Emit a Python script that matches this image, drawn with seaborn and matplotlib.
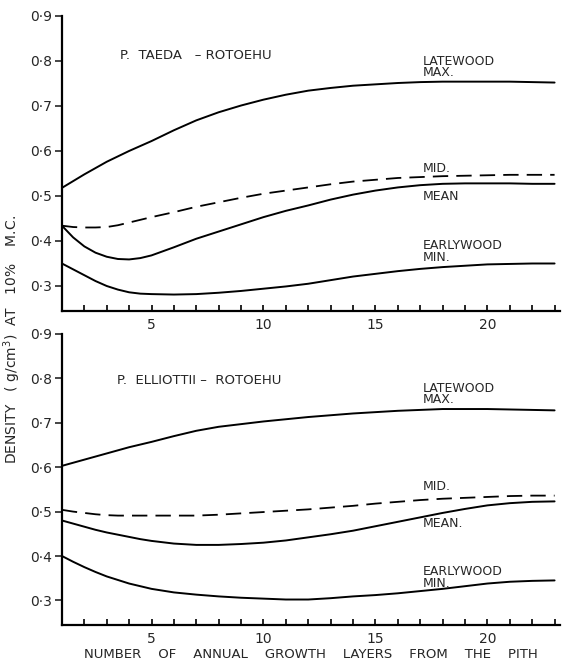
import matplotlib
matplotlib.use("Agg")
import matplotlib.pyplot as plt
import seaborn as sns
import pandas as pd
from matplotlib.ticker import FixedLocator, MultipleLocator, FuncFormatter

# ---- data ----
layers = [1, 1.5, 2, 2.5, 3, 3.5, 4, 4.5, 5, 6, 7, 8, 9, 10, 11, 12, 13, 14, 15, 16, 17, 18, 19, 20, 21, 22, 23]

taeda_latewood = [0.518, 0.533, 0.548, 0.562, 0.576, 0.588, 0.600, 0.611, 0.622, 0.646, 0.668, 0.686, 0.701, 0.714,
                  0.725, 0.734, 0.740, 0.745, 0.748, 0.751, 0.753, 0.754, 0.754, 0.754, 0.754, 0.753, 0.752]
taeda_mid      = [0.434, 0.431, 0.430, 0.430, 0.431, 0.435, 0.441, 0.447, 0.453, 0.464, 0.476, 0.486, 0.496, 0.505,
                  0.512, 0.519, 0.526, 0.532, 0.536, 0.540, 0.542, 0.544, 0.545, 0.546, 0.547, 0.547, 0.547]
taeda_mean     = [0.434, 0.408, 0.388, 0.374, 0.365, 0.360, 0.359, 0.362, 0.368, 0.386, 0.405, 0.421, 0.437, 0.453,
                  0.467, 0.479, 0.492, 0.503, 0.512, 0.519, 0.524, 0.527, 0.528, 0.528, 0.528, 0.527, 0.527]
taeda_early    = [0.350, 0.337, 0.324, 0.311, 0.300, 0.292, 0.286, 0.283, 0.282, 0.281, 0.282, 0.285, 0.289, 0.294,
                  0.299, 0.305, 0.313, 0.321, 0.327, 0.333, 0.338, 0.342, 0.345, 0.348, 0.349, 0.350, 0.350]

elliottii_latewood = [0.603, 0.610, 0.617, 0.624, 0.631, 0.638, 0.645, 0.651, 0.657, 0.670, 0.682, 0.691, 0.697, 0.703,
                      0.708, 0.713, 0.717, 0.721, 0.724, 0.727, 0.729, 0.731, 0.731, 0.731, 0.730, 0.729, 0.728]
elliottii_mid      = [0.504, 0.500, 0.497, 0.494, 0.492, 0.491, 0.491, 0.491, 0.491, 0.491, 0.491, 0.493, 0.496, 0.499,
                      0.502, 0.505, 0.509, 0.513, 0.518, 0.522, 0.526, 0.529, 0.531, 0.533, 0.535, 0.536, 0.536]
elliottii_mean     = [0.480, 0.473, 0.466, 0.459, 0.453, 0.448, 0.443, 0.438, 0.434, 0.428, 0.425, 0.425, 0.427, 0.430,
                      0.435, 0.442, 0.449, 0.457, 0.467, 0.477, 0.487, 0.497, 0.506, 0.514, 0.519, 0.522, 0.523]
elliottii_early    = [0.400, 0.387, 0.375, 0.364, 0.354, 0.346, 0.338, 0.332, 0.326, 0.318, 0.313, 0.309, 0.306, 0.304,
                      0.302, 0.302, 0.305, 0.309, 0.312, 0.316, 0.321, 0.326, 0.332, 0.338, 0.342, 0.344, 0.345]

y_ticks = [0.3, 0.4, 0.5, 0.6, 0.7, 0.8, 0.9]
x_major = [5, 10, 15, 20]

panels = [
    dict(title="P.  TAEDA   – ROTOEHU", title_xy=(3.6, 0.812),
         series=[taeda_latewood, taeda_mid, taeda_mean, taeda_early],
         labels=[("LATEWOOD\nMAX.", 0.787), ("MID.", 0.562), ("MEAN", 0.498), ("EARLYWOOD\nMIN.", 0.377)]),
    dict(title="P.  ELLIOTTII –  ROTOEHU", title_xy=(3.45, 0.795),
         series=[elliottii_latewood, elliottii_mid, elliottii_mean, elliottii_early],
         labels=[("LATEWOOD\nMAX.", 0.765), ("MID.", 0.556), ("MEAN.", 0.474), ("EARLYWOOD\nMIN.", 0.352)]),
]

sns.set_style("ticks")
plt.rcParams['font.family'] = ['DejaVu Sans']

fig = plt.figure(figsize=(5.63, 6.64), dpi=100)
ax_top = fig.add_axes([0.110, 0.532, 0.885, 0.444])
ax_bot = fig.add_axes([0.110, 0.059, 0.885, 0.438])

names = ["latewood", "mid", "mean", "early"]
for ax, p in zip([ax_top, ax_bot], panels):
    for name, vals in zip(names, p["series"]):
        df = pd.DataFrame({"x": layers, "y": vals})
        if name == "mid":
            sns.lineplot(data=df, x="x", y="y", ax=ax, color="black", lw=1.3,
                         dashes=False, linestyle=(0, (8.5, 4.5)))
        else:
            sns.lineplot(data=df, x="x", y="y", ax=ax, color="black", lw=1.4)
    ax.set_xlim(1, 23.25)
    ax.set_ylim(0.245, 0.9)
    ax.yaxis.set_major_locator(FixedLocator(y_ticks))
    ax.yaxis.set_major_formatter(FuncFormatter(lambda v, pos: f"{v:.1f}".replace(".", "·")))
    ax.xaxis.set_major_locator(FixedLocator(x_major))
    ax.xaxis.set_minor_locator(MultipleLocator(1))
    ax.tick_params(axis="x", which="both", direction="in", length=4, width=1.2, pad=5,
                   labelsize=10, color="black")
    ax.tick_params(axis="y", direction="out", length=5, width=1.2, labelsize=10, pad=2)
    for s in ["top", "right"]:
        ax.spines[s].set_visible(False)
    for s in ["left", "bottom"]:
        ax.spines[s].set_linewidth(1.6)
        ax.spines[s].set_color("black")
    ax.set_xlabel("")
    ax.set_ylabel("")
    ax.text(p["title_xy"][0], p["title_xy"][1], p["title"], fontsize=9.5, va="center", ha="left")
    for txt, yv in p["labels"]:
        ax.text(17.1, yv, txt, fontsize=9, va="center", ha="left", linespacing=0.85)

fig.text(0.021, 0.489, "DENSITY   ( g/cm$^3$)  AT   10%    M.C.", rotation=90, fontsize=10,
         va="center", ha="center")
fig.text(0.552, 0.004, "NUMBER    OF    ANNUAL    GROWTH    LAYERS    FROM    THE    PITH",
         fontsize=9.5, ha="center", va="bottom")

fig.savefig("out.png", dpi=100)
